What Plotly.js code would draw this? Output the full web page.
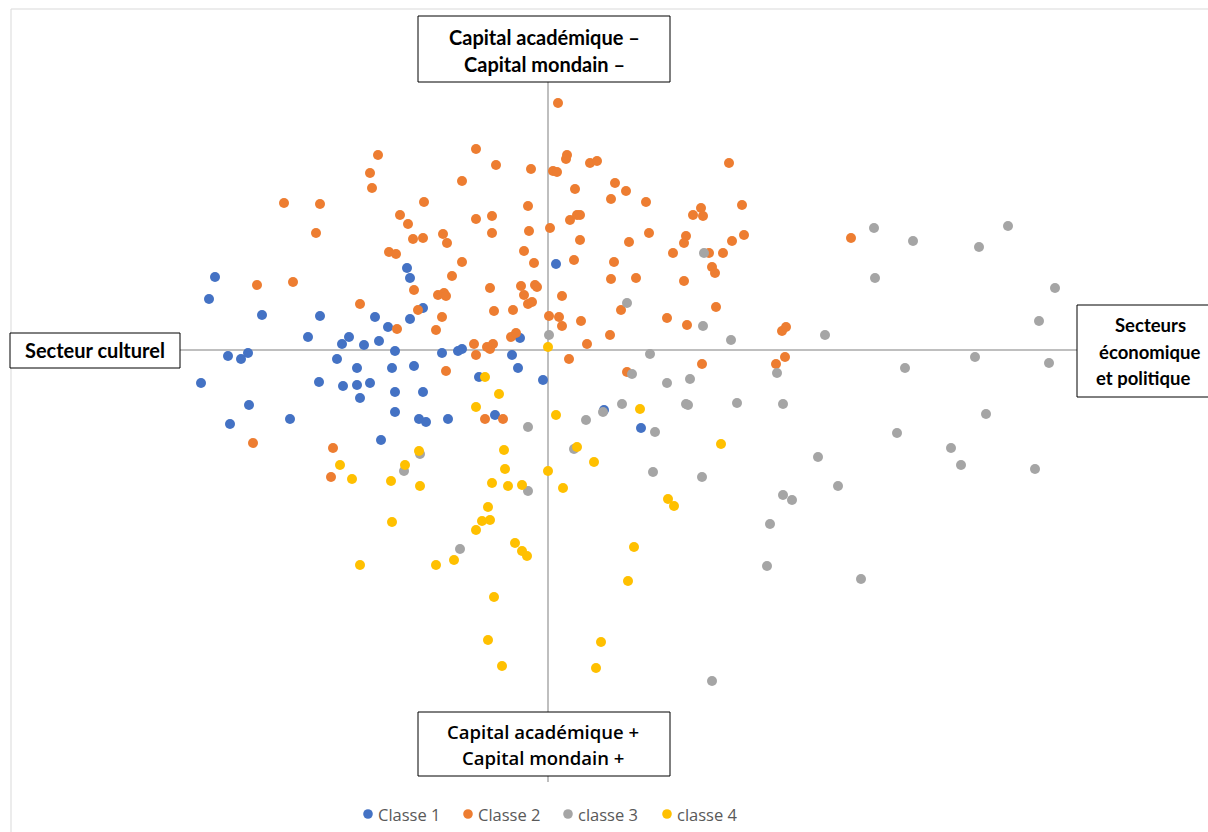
<!DOCTYPE html>
<html>
<head>
<meta charset="utf-8">
<script src="https://cdn.plot.ly/plotly-3.0.1.min.js"></script>
<style>html,body{margin:0;padding:0;background:#fff;}#chart{width:1208px;height:832px;}</style>
</head>
<body>
<div id="chart"></div>
<script>
// ---- Data (axis units, origin at the crossing of the axes) ----
const seriesNames = ["Classe 1", "Classe 2", "classe 3", "classe 4"];
const seriesColors = ["#4472C4", "#ED7D31", "#A5A5A5", "#FFC000"];

const c1x = [-3.33,-3.39,-2.86,-2.28,-2.40,-1.99,-2.06,-1.84,-1.69,-1.60,-1.73,-1.41,-1.38,-1.25,-1.38,-3.20,-3.07,-3.00,-3.47,-2.99,-3.18,-2.58,-2.29,-2.11,-1.91,-2.05,-1.91,-1.78,-1.88,-1.53,-1.56,-1.34,-1.53,-1.25,-1.53,-1.29,-1.22,-1.00,-1.67,-1.06,-0.90,-0.86,-0.69,0.08,-0.28,-0.36,-0.30,-0.05,-0.53,0.56,0.93];
const c1y = [0.73,0.51,0.35,0.34,0.13,0.13,0.06,0.05,0.09,0.23,0.33,0.82,0.72,0.42,0.31,-0.06,-0.09,-0.03,-0.33,-0.55,-0.74,-0.69,-0.32,-0.09,-0.18,-0.36,-0.35,-0.33,-0.48,-0.01,-0.18,-0.16,-0.42,-0.42,-0.62,-0.69,-0.72,-0.69,-0.90,-0.03,-0.01,0.01,-0.27,0.86,0.12,-0.05,-0.18,-0.30,-0.65,-0.60,-0.78];

const c2x = [0.10,0.19,0.18,0.42,0.49,-0.52,-0.72,-0.17,0.05,0.09,1.81,0.67,0.78,0.27,0.63,0.98,-0.20,-0.56,0.22,0.29,0.32,1.53,1.45,1.55,1.94,-0.56,-0.19,0.02,0.32,0.81,1.01,1.38,1.36,1.96,1.84,1.25,1.75,1.61,-0.24,-0.14,0.26,0.66,1.64,1.67,0.63,0.88,1.36,-0.27,-0.13,-0.11,-0.58,0.14,-0.24,-0.20,-0.16,-0.54,-0.35,0.01,0.11,0.14,0.33,0.73,1.68,1.19,1.39,0.62,0.39,-0.37,-0.32,-0.55,-0.58,0.21,0.79,1.54,2.34,2.38,2.37,2.28,-0.45,3.03,-1.70,-1.78,-1.76,-0.86,-2.64,-2.28,-2.32,-1.24,-1.48,-1.40,-1.35,-1.25,-1.05,-1.01,-0.72,-1.59,-1.52,-0.86,-0.96,-2.91,-2.55,-1.34,-1.10,-1.04,-1.02,-1.88,-1.30,-1.51,-1.12,-1.06,-0.74,-0.61,-0.72,-1.02,-0.63,-2.95,-2.15,-2.17];
const c2y = [2.47,1.95,1.91,1.87,1.89,1.85,2.01,1.81,1.79,1.78,1.87,1.67,1.59,1.61,1.51,1.48,1.44,1.34,1.30,1.35,1.35,1.42,1.35,1.34,1.45,1.17,1.19,1.22,1.10,1.08,1.17,1.14,1.07,1.15,1.09,0.97,0.97,0.97,0.99,0.87,0.90,0.88,0.83,0.77,0.71,0.72,0.69,0.64,0.65,0.63,0.62,0.54,0.55,0.46,0.48,0.39,0.40,0.34,0.33,0.24,0.29,0.40,0.43,0.32,0.25,0.15,0.06,0.13,0.17,0.06,0.01,-0.09,-0.22,-0.14,0.19,0.23,-0.07,-0.14,-0.69,1.12,1.95,1.77,1.62,1.69,1.47,1.46,1.17,1.48,1.35,1.26,1.11,1.12,1.16,1.07,1.31,0.98,0.96,0.88,0.74,0.65,0.68,0.60,0.55,0.57,0.54,0.46,0.40,0.21,0.20,0.33,0.06,0.03,-0.05,-0.21,-0.69,-0.93,-0.98,-1.27];

const c3x = [1.56,0.79,0.01,1.02,0.84,1.19,1.42,1.55,1.83,2.29,0.74,0.55,0.38,-0.20,1.07,1.38,1.40,1.89,2.35,0.26,1.05,1.54,2.70,2.90,2.35,2.44,2.22,2.19,3.13,1.64,3.49,-1.28,-1.44,-0.20,-0.88,3.26,3.65,4.31,4.60,3.27,5.07,4.91,2.77,3.57,4.27,5.01,4.38,4.03,4.13,4.87];
const c3y = [0.97,0.47,0.15,-0.04,-0.24,-0.33,-0.29,0.24,0.10,-0.23,-0.54,-0.62,-0.70,-0.77,-0.82,-0.54,-0.55,-0.53,-0.54,-0.99,-1.22,-1.27,-1.07,-1.36,-1.45,-1.50,-1.74,-2.16,-2.29,-3.31,-0.83,-1.04,-1.21,-1.41,-1.99,1.22,1.09,1.03,1.24,0.72,0.62,0.29,0.15,-0.18,-0.07,-0.13,-0.64,-0.98,-1.15,-1.19];

const c4x = [0.00,-0.63,-0.49,-0.72,0.08,0.92,1.73,0.29,0.46,-0.44,-0.43,0.00,0.15,-0.56,-0.40,-0.26,-0.60,-0.66,-0.58,-0.72,-0.33,-0.26,-0.21,-0.94,-1.12,-1.88,-1.56,-2.08,-1.43,-1.96,-1.57,-1.28,-1.29,-0.54,-0.60,-0.46,0.53,0.48,0.80,0.86,1.20,1.26];
const c4y = [0.03,-0.27,-0.44,-0.57,-0.65,-0.59,-0.94,-0.97,-1.12,-1.00,-1.19,-1.21,-1.38,-1.33,-1.36,-1.35,-1.57,-1.71,-1.70,-1.80,-1.93,-2.01,-2.06,-2.10,-2.15,-2.15,-1.72,-1.15,-1.15,-1.29,-1.31,-1.36,-1.01,-2.47,-2.90,-3.16,-2.92,-3.18,-2.31,-1.97,-1.49,-1.56];

const axisLabels = {
  top: ["Capital académique –", "Capital mondain –"],
  bottom: ["Capital académique +", "Capital mondain +"],
  left: ["Secteur culturel"],
  right: ["Secteurs", "économique", "et politique"]
};

// ---- Layout helpers (pixel -> paper) ----
const W = 1208, H = 832;
const px = v => v / W;
const py = v => 1 - v / H;

const xs = [c1x, c2x, c3x, c4x], ys = [c1y, c2y, c3y, c4y];
const traces = seriesNames.map((n, i) => ({
  type: "scatter", mode: "markers", name: n,
  x: xs[i], y: ys[i],
  marker: {color: seriesColors[i], size: 10, line: {width: 0}},
  showlegend: false,
  hoverinfo: "x+y+name"
}));

function rect(x0, y0, x1, y1, color, layer, fill) {
  return {type: "rect", xref: "paper", yref: "paper", x0: px(x0), x1: px(x1), y0: py(y1), y1: py(y0),
          line: {color: color, width: 1}, fillcolor: fill || "rgba(0,0,0,0)", layer: layer};
}
function line(x0, y0, x1, y1) {
  return {type: "line", xref: "paper", yref: "paper", x0: px(x0), x1: px(x1), y0: py(y0), y1: py(y1),
          line: {color: "#BFBFBF", width: 2}, layer: "below"};
}
function dot(cx, cy, r, color) {
  return {type: "circle", xref: "paper", yref: "paper", x0: px(cx - r), x1: px(cx + r), y0: py(cy + r), y1: py(cy - r),
          line: {width: 0}, fillcolor: color, layer: "above"};
}

const shapes = [
  rect(11, 9, 1230, 850, "#D9D9D9", "below"),
  line(10, 350, 1208, 350),
  line(548, 16, 548, 782),
  rect(418, 16, 670, 82, "#000000", "above", "#FFFFFF"),
  rect(418, 712, 670, 776, "#000000", "above", "#FFFFFF"),
  rect(10, 333, 180, 368, "#000000", "above", "#FFFFFF"),
  rect(1077, 305, 1230, 397, "#000000", "above", "#FFFFFF")
];

const boldFont = {family: "Lato, 'Open Sans', sans-serif", size: 20, color: "#000000", weight: 700};
const rightFont = {family: "Lato, 'Open Sans', sans-serif", size: 18.5, color: "#000000", weight: 700};
const semiFont = {family: "'Open Sans', sans-serif", size: 18.5, color: "#000000", weight: 600};
function ann(text, x, y, font, anchor) {
  return {text: text, xref: "paper", yref: "paper", x: px(x), y: py(y), xanchor: anchor || "center", yanchor: "middle",
          showarrow: false, font: font};
}
const annotations = [
  ann(axisLabels.top[0], 544, 37, boldFont),
  ann(axisLabels.top[1], 544, 64, boldFont),
  ann(axisLabels.bottom[0], 543, 731, semiFont),
  ann(axisLabels.bottom[1], 543, 757, semiFont),
  ann(axisLabels.left[0], 95, 350, boldFont),
  ann(axisLabels.right[0], 1150, 325, rightFont),
  ann(axisLabels.right[1], 1149, 352, rightFont),
  ann(axisLabels.right[2], 1143, 378, rightFont)
];

// Legend drawn at the bottom centre
const legendDotX = [368, 468, 568, 667];
const legendFont = {family: "'Open Sans', sans-serif", size: 16.5, color: "#595959"};
seriesNames.forEach((n, i) => {
  shapes.push(dot(legendDotX[i], 814, 4.8, seriesColors[i]));
  annotations.push(ann(n, legendDotX[i] + 8, 814, legendFont, "left"));
});

const layout = {
  width: W, height: H,
  margin: {l: 0, r: 0, t: 0, b: 0, pad: 0},
  paper_bgcolor: "#FFFFFF", plot_bgcolor: "#FFFFFF",
  xaxis: {range: [-5.48, 6.60], visible: false, fixedrange: true},
  yaxis: {range: [-4.82, 3.50], visible: false, fixedrange: true},
  showlegend: false,
  shapes: shapes,
  annotations: annotations
};

Plotly.newPlot("chart", traces, layout, {displayModeBar: false, staticPlot: true});
</script>
</body>
</html>
